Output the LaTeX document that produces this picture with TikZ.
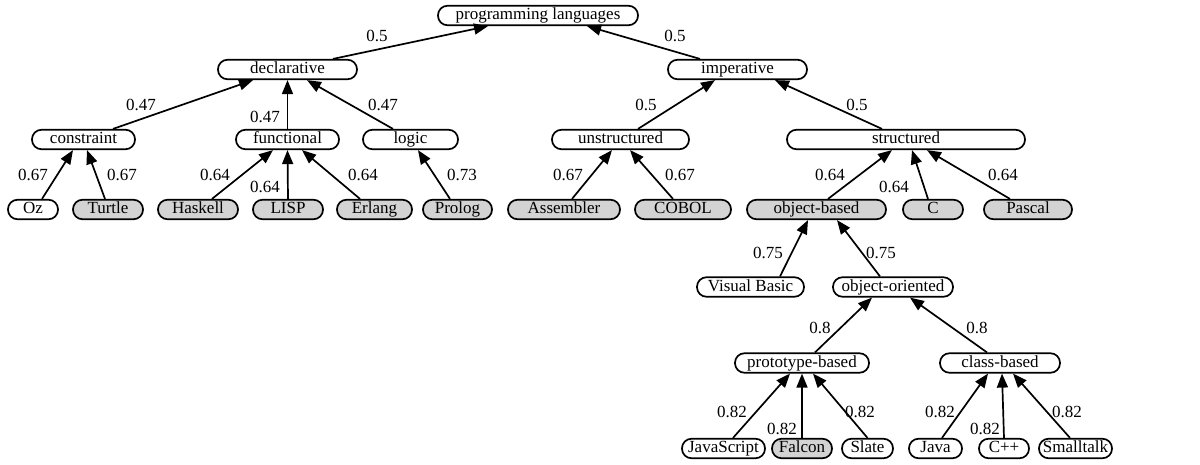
\documentclass[tikz,border=0pt]{standalone}
\usepackage{fontspec}
\setmainfont{Liberation Serif}
\usetikzlibrary{arrows.meta}
\definecolor{boxgray}{RGB}{211,211,211}
\begin{document}
\begin{tikzpicture}[x=1pt,y=-1pt,
  box/.style={draw=black,line width=1.7pt,rounded corners=9.5pt,minimum height=19.5pt,inner sep=0pt,
    font=\fontsize{17}{17}\selectfont,text height=11.5pt,text depth=3.5pt,fill=white},
  gbox/.style={box,fill=boxgray},
  edge/.style={draw=black,line width=1.7pt,-{Triangle[length=14pt,width=11pt]}},
  lbl/.style={inner sep=0pt,font=\fontsize{17}{17}\selectfont}]
\useasboundingbox (0,0) rectangle (1200,464);
% nodes
\node[box,minimum width=200] (pl) at (538,15.5) {programming languages};
\node[box,minimum width=139] (decl) at (287.5,69.5) {declarative};
\node[box,minimum width=139] (imp) at (737.5,69.5) {imperative};
\node[box,minimum width=103] (cons) at (83.5,139.5) {constraint};
\node[box,minimum width=103] (func) at (287.5,139.5) {functional};
\node[box,minimum width=95] (logic) at (410.5,139.5) {logic};
\node[box,minimum width=137] (unstr) at (620.5,139.5) {unstructured};
\node[box,minimum width=238] (str) at (906,139.5) {structured};
\node[box,minimum width=50] (oz) at (33,209.5) {Oz};
\node[gbox,minimum width=70] (turtle) at (108,209.5) {Turtle};
\node[gbox,minimum width=80] (haskell) at (198,209.5) {Haskell};
\node[gbox,minimum width=70] (lisp) at (288,209.5) {LISP};
\node[gbox,minimum width=75] (erlang) at (374.5,209.5) {Erlang};
\node[gbox,minimum width=69] (prolog) at (457.5,209.5) {Prolog};
\node[gbox,minimum width=112] (asm) at (564,209.5) {Assembler};
\node[gbox,minimum width=96] (cobol) at (683,209.5) {COBOL};
\node[gbox,minimum width=139] (objb) at (816.5,209.5) {object-based};
\node[gbox,minimum width=60] (c) at (933,209.5) {C};
\node[gbox,minimum width=88] (pascal) at (1028,209.5) {Pascal};
\node[box,minimum width=107] (vb) at (750.5,287) {Visual Basic};
\node[box,minimum width=120] (oo) at (893,287) {object-oriented};
\node[box,minimum width=134] (proto) at (802,363) {prototype-based};
\node[box,minimum width=120] (class) at (1000,363) {class-based};
\node[box,minimum width=83] (js) at (723.5,448.5) {JavaScript};
\node[gbox,minimum width=60] (falcon) at (802,448.5) {Falcon};
\node[box,minimum width=51] (slate) at (867.5,448.5) {Slate};
\node[box,minimum width=53] (java) at (935.5,448.5) {Java};
\node[box,minimum width=50] (cpp) at (1004,448.5) {C++};
\node[box,minimum width=73] (small) at (1075.5,448.5) {Smalltalk};
% edges
\draw[edge] ([xshift=45.5]decl.north) -- ([xshift=-50]pl.south);
\draw[edge] ([xshift=-37.5]imp.north) -- ([xshift=49]pl.south);
\draw[edge] ([xshift=29.5]cons.north) -- ([xshift=-34.5]decl.south);
\draw[edge] (func.north) -- (decl.south);
\draw[edge] ([xshift=-17.5]logic.north) -- ([xshift=19.5]decl.south);
\draw[edge] ([xshift=17.5]unstr.north) -- ([xshift=-22.5]imp.south);
\draw[edge] ([xshift=-24]str.north) -- ([xshift=37.5]imp.south);
\draw[edge] ([xshift=9]oz.north) -- ([xshift=-10.5]cons.south);
\draw[edge] ([xshift=-3]turtle.north) -- ([xshift=3.5]cons.south);
\draw[edge] ([xshift=14]haskell.north) -- ([xshift=-14.5]func.south);
\draw[edge] (lisp.north) -- (func.south);
\draw[edge] ([xshift=-14.5]erlang.north) -- ([xshift=14.5]func.south);
\draw[edge] ([xshift=-7.5]prolog.north) -- ([xshift=7.5]logic.south);
\draw[edge] ([xshift=8]asm.north) -- ([xshift=-8.5]unstr.south);
\draw[edge] ([xshift=-10]cobol.north) -- ([xshift=9.5]unstr.south);
\draw[edge] ([xshift=11.5]objb.north) -- ([xshift=-14]str.south);
\draw[edge] ([xshift=-5]c.north) -- ([xshift=6]str.south);
\draw[edge] ([xshift=-18]pascal.north) -- ([xshift=21]str.south);
\draw[edge] ([xshift=29.5]vb.north) -- ([xshift=-8.5]objb.south);
\draw[edge] ([xshift=-13]oo.north) -- ([xshift=20.5]objb.south);
\draw[edge] ([xshift=13]proto.north) -- ([xshift=-21]oo.south);
\draw[edge] ([xshift=-13]class.north) -- ([xshift=17]oo.south);
\draw[edge] ([xshift=9.5]js.north) -- ([xshift=-12]proto.south);
\draw[edge] (falcon.north) -- (proto.south);
\draw[edge] (slate.north) -- ([xshift=11]proto.south);
\draw[edge] ([xshift=6.5]java.north) -- ([xshift=-12]class.south);
\draw[edge] (cpp.north) -- ([xshift=2]class.south);
\draw[edge] ([xshift=-5.5]small.north) -- ([xshift=13]class.south);
% labels
\node[lbl] (w1) at (377,36) {0.5};
\node[lbl] (w2) at (675,36) {0.5};
\node[lbl] (w3) at (141,105) {0.47};
\node[lbl] (w4) at (265,117) {0.47};
\node[lbl] (w5) at (383,105) {0.47};
\node[lbl] (w6) at (646,105) {0.5};
\node[lbl] (w7) at (857,105) {0.5};
\node[lbl] (w8) at (33,175) {0.67};
\node[lbl] (w9) at (122,175) {0.67};
\node[lbl] (w10) at (215,175) {0.64};
\node[lbl] (w11) at (265,187) {0.64};
\node[lbl] (w12) at (363,175) {0.64};
\node[lbl] (w13) at (462,175) {0.73};
\node[lbl] (w14) at (568,175) {0.67};
\node[lbl] (w15) at (680,175) {0.67};
\node[lbl] (w16) at (830,175) {0.64};
\node[lbl] (w17) at (894,187) {0.64};
\node[lbl] (w18) at (1003,175) {0.64};
\node[lbl] (w19) at (768,253) {0.75};
\node[lbl] (w20) at (881,253) {0.75};
\node[lbl] (w21) at (820,328) {0.8};
\node[lbl] (w22) at (977,328) {0.8};
\node[lbl] (w23) at (732,412) {0.82};
\node[lbl] (w24) at (782,429) {0.82};
\node[lbl] (w25) at (860,412) {0.82};
\node[lbl] (w26) at (940,412) {0.82};
\node[lbl] (w27) at (985,429) {0.82};
\node[lbl] (w28) at (1067,412) {0.82};
\end{tikzpicture}
\end{document}
